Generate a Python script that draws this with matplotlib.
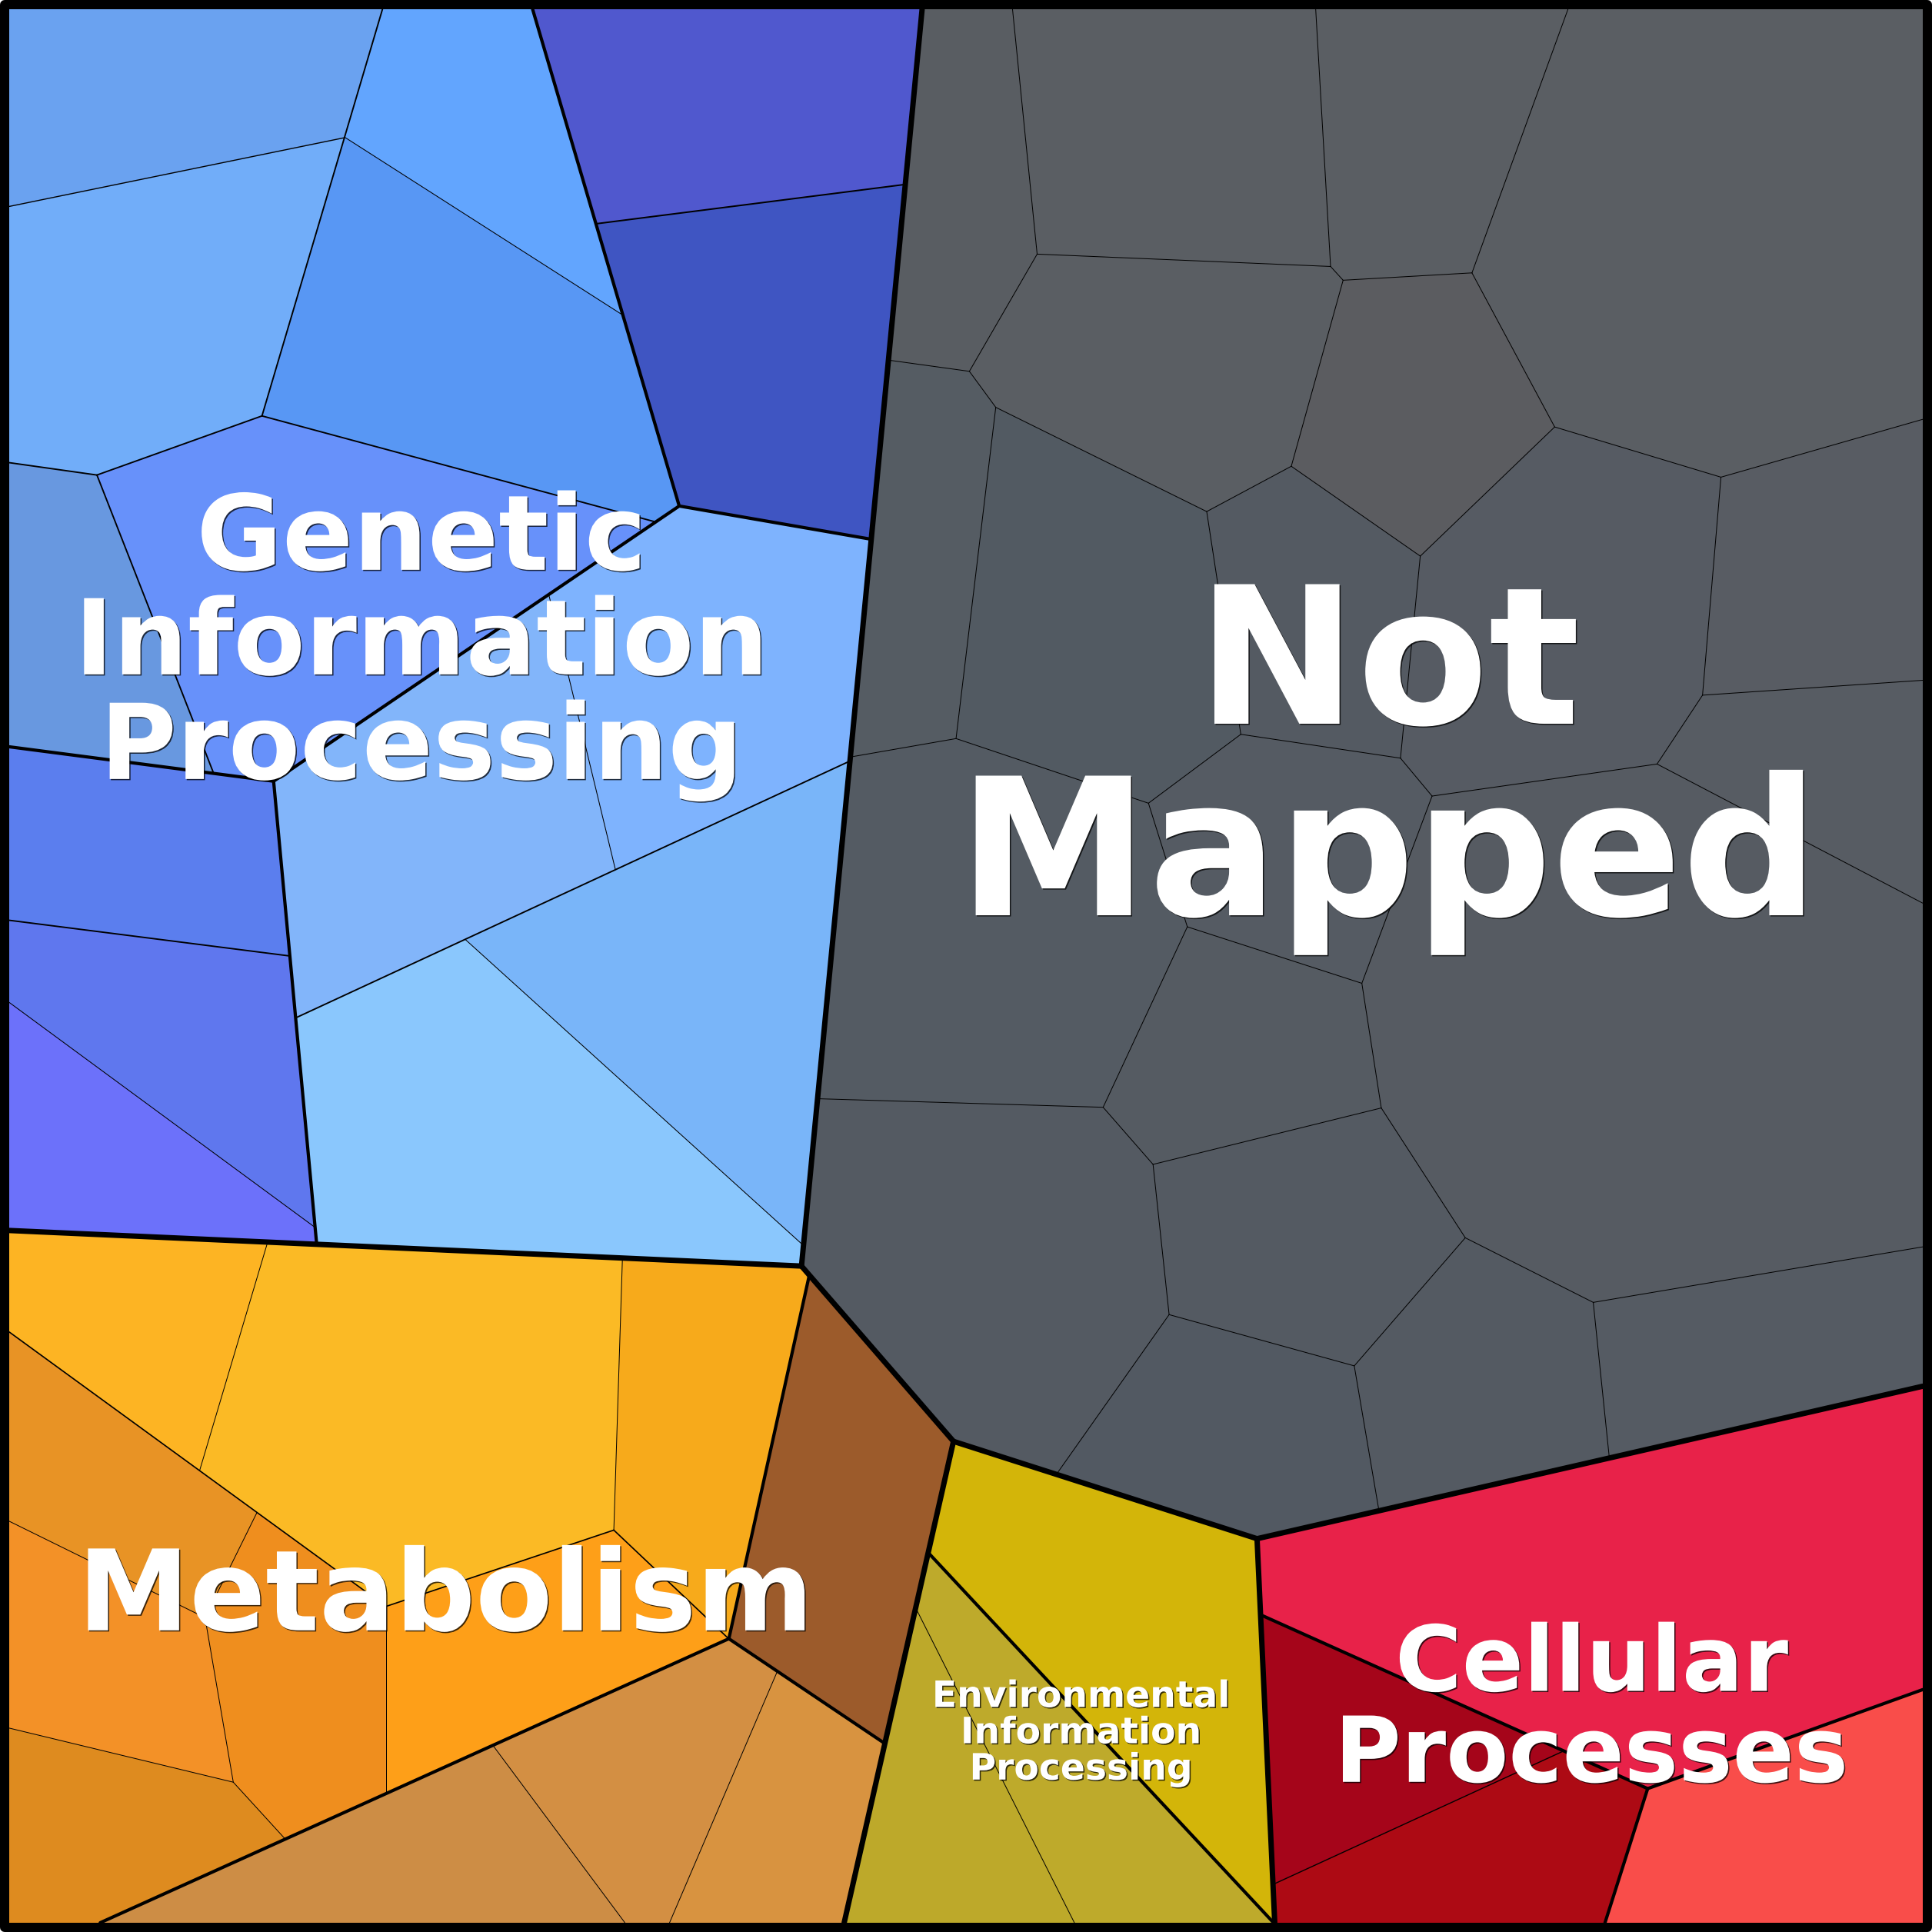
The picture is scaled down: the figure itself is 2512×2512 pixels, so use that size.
import numpy as np
import matplotlib
matplotlib.use("Agg")
import matplotlib.pyplot as plt
from matplotlib.collections import PolyCollection, LineCollection
from matplotlib.patches import Rectangle
from matplotlib.path import Path
import matplotlib.patheffects as pe

# =====================================================================
# DATA  (relative size of every cell of the Voronoi treemap)
# =====================================================================
categories = ["Genetic Information Processing", "Not Mapped", "Metabolism",
              "Environmental Information Processing", "Cellular Processes"]
category_labels = ["Genetic\nInformation\nProcessing", "Not\nMapped", "Metabolism",
                   "Environmental\nInformation\nProcessing", "Cellular\nProcesses"]

genetic_a = [452, 527]
genetic_b1 = [539, 551]
genetic_b2 = [587, 655]
genetic_c_leaf = [311]
genetic_c1 = [331, 247]
genetic_d1 = [376, 526]
genetic_d2 = [291, 579]
genetic_d_leaves = [273, 727]

metabolism_x = [261, 793]
metabolism_m3 = [340]
metabolism_m4 = [322]
metabolism_y = [239, 281, 250, 235]
metabolism_brown = [396]
metabolism_tan = [307, 278, 218]

environmental_e1 = [538]
environmental_eg = [285, 239]

cellular_c1 = [1115]
cellular_cd = [264, 267]
cellular_c4 = [352]

not_mapped = [267, 493, 345, 1172, 441, 317, 268, 517, 304, 592, 331,
              243, 720, 317, 1595, 286, 675, 361, 312, 318, 316]

# =====================================================================
# LAYOUT: generator points of the power-diagram (Voronoi) treemap,
# in 0..1000 layout units (x to the right, y downwards).
# =====================================================================
seed_top = [(236.4, 328.5), (723.0, 375.2), (214.5, 816.1), (556.7, 893.8), (838.8, 880.8)]
seed_genetic = [(383.2, 118.4), (320.2, 482.3), (84.7, 504.2), (125.0, 194.6)]
seed_genetic_a = [(378.9, 49.0), (395.3, 177.9)]
seed_genetic_b = [(266.3, 390.2), (336.6, 541.9)]
seed_genetic_b1 = [(374.6, 363.2), (217.7, 401.2)]
seed_genetic_b2 = [(355.3, 497.8), (265.8, 596.7)]
seed_genetic_c = [(81.2, 440.4), (65.5, 563.8)]
seed_genetic_c1 = [(94.3, 540.3), (52.3, 597.4)]
seed_genetic_d = [(93.1, 97.0), (210.9, 131.9), (58.6, 341.6), (165.7, 299.7)]
seed_genetic_d1 = [(69.9, 43.1), (92.6, 153.8)]
seed_genetic_d2 = [(273.3, 72.6), (211.2, 169.7)]
seed_metabolism = [(204.6, 757.2), (411.6, 803.0), (300.2, 968.8)]
seed_metabolism_u = [(192.6, 722.2), (369.3, 727.8), (240.2, 864.3), (89.1, 864.3)]
seed_metabolism_x = [(66.5, 686.3), (216.6, 731.0)]
seed_metabolism_y = [(78.9, 807.6), (151.0, 843.2), (53.1, 860.0), (30.6, 953.2)]
seed_metabolism_tan = [(216.4, 985.3), (323.5, 905.6), (408.4, 942.0)]
seed_env = [(594.3, 857.1), (518.0, 928.3)]
seed_env_g = [(554.7, 920.6), (492.2, 952.1)]
seed_cell = [(841.7, 802.4), (781.3, 936.9), (904.2, 976.0)]
seed_cell_d = [(723.9, 899.7), (758.8, 975.7)]
seed_not_mapped = [(501.2, 99.0), (637.5, 85.3), (739.5, 79.4), (885.6, 132.6),
                   (633.7, 175.6), (746.8, 207.1), (474.4, 292.4), (570.3, 303.9),
                   (692.4, 285.2), (835.3, 299.2), (935.8, 307.7), (939.9, 368.3),
                   (508.5, 487.9), (669.7, 437.2), (865.4, 510.6), (634.3, 546.6),
                   (503.3, 661.1), (658.5, 644.5), (629.3, 750.0), (755.4, 728.5),
                   (899.6, 713.6)]

# =====================================================================
# STYLE
# =====================================================================
col_genetic_a = ["#5058CE", "#3F55C2"]
col_genetic_b1 = ["#7EB3FE", "#82B5FA"]
col_genetic_b2 = ["#79B5F9", "#8AC7FD"]
col_genetic_c = ["#5B7EEE"]
col_genetic_c1 = ["#5F77EE", "#6C71FA"]
col_genetic_d1 = ["#6AA2F0", "#71ADF9"]
col_genetic_d2 = ["#62A5FE", "#5897F4"]
col_genetic_d = ["#6898E0", "#6791FA"]
col_metabolism_x = ["#FDB423", "#FBBA25"]
col_metabolism_m3 = ["#F7AA1B"]
col_metabolism_m4 = ["#FE9F18"]
col_metabolism_y = ["#E89325", "#EF8E1E", "#F39127", "#DE8B1F"]
col_metabolism_brown = ["#9C5B2B"]
col_metabolism_tan = ["#CD8D45", "#D38F43", "#D89340"]
col_env_e1 = ["#D3B509"]
col_env_g = ["#BEAA2B", "#BDA92A"]
col_cell_c1 = ["#E82249"]
col_cell_d = ["#A5051A", "#AD0A14"]
col_cell_c4 = ["#F94D4A"]
col_not_mapped = ["#595D62", "#5A5E63", "#5A5E63", "#5A5E63", "#5A5E63", "#5B5C60",
                  "#555C63", "#525A62", "#545A62", "#565B63", "#585C63", "#575C63",
                  "#545B63", "#555B63", "#565B62", "#555B62", "#545A62", "#545A62",
                  "#525962", "#545A62", "#555B63"]

label_font_px = [136, 249, 146, 47.2, 118.3]
label_nudge_px = [(-22, 10), (0, -32), (-3, -14), (10, 11), (-27, 2)]
LW_TOP, LW_2, LW_3, LW_4 = 7.0, 4.2, 1.9, 1.05

SIZE, DPI = 2512, 100
IN0, IN1 = 12.0, 2500.0


def to_px(p):
    return IN0 + np.asarray(p, float) / 1000.0 * (IN1 - IN0)


# ---------------------------------------------------------------------
# power diagram machinery
# ---------------------------------------------------------------------
def poly_area(P):
    if len(P) < 3:
        return 0.0
    x, y = P[:, 0], P[:, 1]
    return 0.5 * abs(np.dot(x, np.roll(y, -1)) - np.dot(np.roll(x, -1), y))


def poly_centroid(P):
    x, y = P[:, 0], P[:, 1]
    x1, y1 = np.roll(x, -1), np.roll(y, -1)
    c = x * y1 - x1 * y
    a = c.sum() / 2.0
    return np.array([((x + x1) * c).sum() / (6 * a), ((y + y1) * c).sum() / (6 * a)])


def clip(P, L, a, b, lab):
    n = len(P)
    if n == 0:
        return P, L
    v = P @ a - b
    outP, outL = [], []
    for k in range(n):
        k2 = (k + 1) % n
        p, q, vp, vq = P[k], P[k2], v[k], v[k2]
        if vp <= 0:
            outP.append(p); outL.append(L[k])
            if vq > 0:
                t = vp / (vp - vq)
                outP.append(p + t * (q - p)); outL.append(lab)
        elif vq <= 0:
            t = vp / (vp - vq)
            outP.append(p + t * (q - p)); outL.append(L[k])
    if len(outP) < 3:
        return np.zeros((0, 2)), []
    P2 = np.array(outP)
    m = len(P2)
    keep = [k for k in range(m) if np.hypot(*(P2[(k + 1) % m] - P2[k])) > 1e-9]
    P2 = P2[keep]
    L2 = [outL[k] for k in keep]
    if len(P2) < 3:
        return np.zeros((0, 2)), []
    return P2, L2


def power_cells(S, W, P0):
    n = len(S)
    L0 = [-1] * len(P0)
    sq = (S ** 2).sum(1)
    cells = []
    for i in range(n):
        P, L = P0, L0
        for j in range(n):
            if j == i:
                continue
            P, L = clip(P, L, 2 * (S[j] - S[i]), sq[j] - sq[i] - W[j] + W[i], j)
            if len(P) == 0:
                break
        cells.append((P, L))
    return cells


def solve(S, T, P0, iters=150):
    n = len(S)
    W = np.zeros(n)

    def ev(Wv):
        cs = power_cells(S, Wv, P0)
        return cs, np.array([poly_area(P) for P, _ in cs])

    cells, A = ev(W)
    for _ in range(iters):
        err = T - A
        if np.max(np.abs(err) / T) < 3e-4:
            break
        H = np.zeros((n, n))
        for i, (P, L) in enumerate(cells):
            m = len(P)
            for k, lab in enumerate(L):
                if lab >= 0:
                    ln = np.linalg.norm(P[(k + 1) % m] - P[k])
                    c = ln / (2 * np.linalg.norm(S[i] - S[lab]))
                    H[i, lab] -= c
                    H[i, i] += c
        H = 0.5 * (H + H.T)
        dW = np.linalg.lstsq(H, err, rcond=None)[0]
        e0 = np.linalg.norm(err)
        t = 1.0
        ok = False
        while t > 1e-5:
            c2, A2 = ev(W + t * dW)
            if A2.min() > 0 and np.linalg.norm(T - A2) < (1 - 0.2 * t) * e0:
                W = W + t * dW
                cells, A = c2, A2
                ok = True
                break
            t *= 0.5
        if not ok:
            break
    return cells


# ---------------------------------------------------------------------
# hierarchy
# ---------------------------------------------------------------------
def leaf(v, seed, color, tag=0):
    return {"value": v, "seed": seed, "color": color, "tag": tag}


def group(kids, seed, lw, lw_cross=None, label=None, fs=None, nudge=(0, 0), tag=0):
    return {"children": kids, "seed": seed, "lw": lw, "lw_cross": lw_cross,
            "label": label, "fs": fs, "nudge": nudge, "tag": tag}


def leaves(values, seeds, colors):
    return [leaf(v, s, c) for v, s, c in zip(values, seeds, colors)]


def value_of(node):
    if "children" in node:
        return sum(value_of(k) for k in node["children"])
    return node["value"]


genetic = group([
    group(leaves(genetic_a, seed_genetic_a, col_genetic_a), seed_genetic[0], 2.0),
    group([group(leaves(genetic_b1, seed_genetic_b1, col_genetic_b1), seed_genetic_b[0], LW_4),
           group(leaves(genetic_b2, seed_genetic_b2, col_genetic_b2), seed_genetic_b[1], LW_4)],
          seed_genetic[1], LW_3),
    group([leaf(genetic_c_leaf[0], seed_genetic_c[0], col_genetic_c[0]),
           group(leaves(genetic_c1, seed_genetic_c1, col_genetic_c1), seed_genetic_c[1], LW_4)],
          seed_genetic[2], LW_3),
    group([group(leaves(genetic_d1, seed_genetic_d1, col_genetic_d1), seed_genetic_d[0], 1.4),
           group(leaves(genetic_d2, seed_genetic_d2, col_genetic_d2), seed_genetic_d[1], LW_4),
           leaf(genetic_d_leaves[0], seed_genetic_d[2], col_genetic_d[0]),
           leaf(genetic_d_leaves[1], seed_genetic_d[3], col_genetic_d[1])],
          seed_genetic[3], LW_3),
], seed_top[0], LW_2, label=category_labels[0], fs=label_font_px[0], nudge=label_nudge_px[0])

notmapped = group(leaves(not_mapped, seed_not_mapped, col_not_mapped), seed_top[1], 1.0,
                  label=category_labels[1], fs=label_font_px[1], nudge=label_nudge_px[1])

metabolism_main = group([
    group(leaves(metabolism_x, seed_metabolism_x, col_metabolism_x), seed_metabolism_u[0], 1.0, tag=0),
    leaf(metabolism_m3[0], seed_metabolism_u[1], col_metabolism_m3[0], tag=0),
    leaf(metabolism_m4[0], seed_metabolism_u[2], col_metabolism_m4[0], tag=1),
    group(leaves(metabolism_y, seed_metabolism_y, col_metabolism_y), seed_metabolism_u[3], 1.0, tag=1),
], seed_metabolism[0], 1.0, lw_cross=1.7)

metabolism = group([
    metabolism_main,
    leaf(metabolism_brown[0], seed_metabolism[1], col_metabolism_brown[0]),
    group(leaves(metabolism_tan, seed_metabolism_tan, col_metabolism_tan), seed_metabolism[2], 1.0),
], seed_top[2], LW_2, label=category_labels[2], fs=label_font_px[2], nudge=label_nudge_px[2])

environmental = group([
    leaf(environmental_e1[0], seed_env[0], col_env_e1[0]),
    group(leaves(environmental_eg, seed_env_g, col_env_g), seed_env[1], 1.0),
], seed_top[3], LW_2, label=category_labels[3], fs=label_font_px[3], nudge=label_nudge_px[3])

cellular = group([
    leaf(cellular_c1[0], seed_cell[0], col_cell_c1[0]),
    group(leaves(cellular_cd, seed_cell_d, col_cell_d), seed_cell[1], 1.4),
    leaf(cellular_c4[0], seed_cell[2], col_cell_c4[0]),
], seed_top[4], LW_2, label=category_labels[4], fs=label_font_px[4], nudge=label_nudge_px[4])

root = group([genetic, notmapped, metabolism, environmental, cellular], None, LW_TOP)

segments, widths = [], []
leaf_polys, leaf_colors = [], []
labels_to_draw = []


def layout(node, P):
    kids = node.get("children")
    if not kids:
        leaf_polys.append(P)
        leaf_colors.append(node["color"])
        return
    if node.get("label"):
        labels_to_draw.append((node["label"], poly_centroid(P) + np.array(node["nudge"], float),
                               node["fs"]))
    path = Path(np.vstack([P, P[:1]]))
    cen = poly_centroid(P)
    S = []
    for k in kids:
        s = to_px(k["seed"])
        while not path.contains_point(s):
            s = cen + 0.9 * (s - cen)
        S.append(s)
    S = np.array(S)
    V = np.array([value_of(k) for k in kids], float)
    T = V / V.sum() * poly_area(P)
    cells = solve(S, T, P)
    for i, (Pc, Lc) in enumerate(cells):
        m = len(Pc)
        for k, lab in enumerate(Lc):
            if lab > i:
                lw = node["lw"]
                if node.get("lw_cross") and kids[i].get("tag", 0) != kids[lab].get("tag", 0):
                    lw = node["lw_cross"]
                segments.append([Pc[k], Pc[(k + 1) % m]])
                widths.append(lw)
        layout(kids[i], Pc)


square = np.array([[IN0, IN0], [IN1, IN0], [IN1, IN1], [IN0, IN1]])
layout(root, square)

# =====================================================================
# DRAW
# =====================================================================
fig = plt.figure(figsize=(SIZE / DPI, SIZE / DPI), dpi=DPI)
fig.patch.set_facecolor("white")
ax = fig.add_axes([0, 0, 1, 1])
ax.set_xlim(0, SIZE)
ax.set_ylim(SIZE, 0)
ax.axis("off")

ax.add_collection(PolyCollection(leaf_polys, facecolors=leaf_colors, edgecolors=leaf_colors,
                                 linewidths=0.4, antialiased=True))

order = np.argsort(widths, kind="stable")
segs = [segments[i] for i in order]
lws = [widths[i] * 72.0 / DPI for i in order]
ax.add_collection(LineCollection(segs, colors="black", linewidths=lws, capstyle="round",
                                 joinstyle="round"))

ax.add_patch(Rectangle((6, 6), SIZE - 12, SIZE - 12, fill=False, edgecolor="black",
                       linewidth=12 * 72.0 / DPI, joinstyle="round"))

BASE_EM, LINE_EM = 0.5, 1.0
for text, c, fs_px in labels_to_draw:
    lines = text.split("\n")
    n = len(lines)
    for k, line in enumerate(lines):
        y = c[1] + BASE_EM * fs_px + (k - (n - 1) / 2.0) * LINE_EM * fs_px
        ax.text(c[0], y, line, ha="center", va="baseline", color="white",
                fontsize=fs_px * 72.0 / DPI, fontweight="bold", family="DejaVu Sans",
                path_effects=[pe.withSimplePatchShadow(offset=(1.1, -1.1),
                                                       shadow_rgbFace="black", alpha=0.75)])

fig.savefig("out.png", dpi=DPI, facecolor=fig.get_facecolor())
